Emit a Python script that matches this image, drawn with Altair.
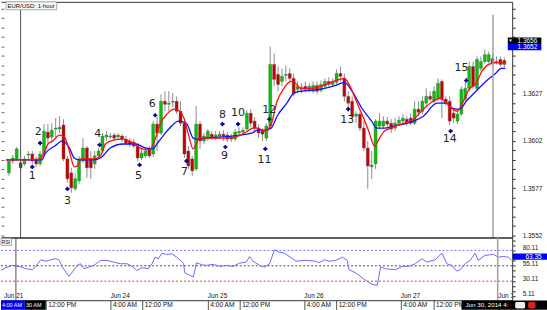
import altair as alt
import pandas as pd

# ---------------- candles (EUR/USD 1-hour) ----------------
OPEN = [1.35851, 1.35914, 1.35925, 1.35904, 1.35899, 1.35946, 1.35951, 1.35920, 1.35899, 1.35951,
        1.36067, 1.36041, 1.36083, 1.36083, 1.36104, 1.35925, 1.35851, 1.35767, 1.35809, 1.35914,
        1.35983, 1.35925, 1.35899, 1.35941, 1.35967, 1.36041, 1.36041, 1.36051, 1.36041, 1.36046,
        1.36030, 1.36020, 1.36014, 1.35993, 1.35930, 1.35941, 1.35978, 1.35951, 1.36109, 1.36062,
        1.36230, 1.36214, 1.36225, 1.36230, 1.36177, 1.36114, 1.35967, 1.35925, 1.35872, 1.36109,
        1.36020, 1.36035, 1.36056, 1.36035, 1.36046, 1.36056, 1.36051, 1.36041, 1.36030, 1.36062,
        1.36067, 1.36083, 1.36167, 1.36125, 1.36088, 1.36072, 1.36035, 1.36099, 1.36425, 1.36372,
        1.36335, 1.36367, 1.36377, 1.36351, 1.36293, 1.36293, 1.36309, 1.36288, 1.36283, 1.36314,
        1.36288, 1.36309, 1.36335, 1.36319, 1.36330, 1.36377, 1.36351, 1.36256, 1.36230, 1.36151,
        1.36162, 1.36088, 1.35983, 1.35883, 1.35899, 1.36099, 1.36099, 1.36125, 1.36114, 1.36088,
        1.36114, 1.36125, 1.36135, 1.36141, 1.36114, 1.36188, 1.36177, 1.36220, 1.36256, 1.36230,
        1.36246, 1.36335, 1.36241, 1.36230, 1.36167, 1.36125, 1.36162, 1.36241, 1.36298, 1.36414,
        1.36298, 1.36404, 1.36440, 1.36440, 1.36456, 1.36435, 1.36451, 1.36446]
HIGH = [1.35925, 1.35946, 1.35988, 1.35925, 1.35941, 1.35967, 1.35967, 1.35935, 1.35967, 1.36109,
        1.36109, 1.36114, 1.36141, 1.36151, 1.36135, 1.35941, 1.35878, 1.35851, 1.35941, 1.36035,
        1.35993, 1.35967, 1.35967, 1.35983, 1.36062, 1.36072, 1.36062, 1.36062, 1.36062, 1.36056,
        1.36046, 1.36035, 1.36030, 1.36009, 1.35978, 1.35988, 1.35993, 1.36125, 1.36151, 1.36267,
        1.36283, 1.36283, 1.36272, 1.36256, 1.36230, 1.36135, 1.35993, 1.35941, 1.36204, 1.36125,
        1.36062, 1.36083, 1.36072, 1.36072, 1.36072, 1.36077, 1.36067, 1.36056, 1.36083, 1.36093,
        1.36093, 1.36183, 1.36188, 1.36146, 1.36109, 1.36088, 1.36114, 1.36519, 1.36483, 1.36414,
        1.36404, 1.36419, 1.36404, 1.36377, 1.36335, 1.36325, 1.36335, 1.36325, 1.36335, 1.36335,
        1.36340, 1.36351, 1.36356, 1.36351, 1.36398, 1.36414, 1.36377, 1.36283, 1.36256, 1.36177,
        1.36177, 1.36125, 1.36020, 1.35967, 1.36135, 1.36167, 1.36151, 1.36146, 1.36135, 1.36141,
        1.36151, 1.36162, 1.36151, 1.36167, 1.36230, 1.36230, 1.36256, 1.36298, 1.36283, 1.36309,
        1.36351, 1.36346, 1.36256, 1.36256, 1.36193, 1.36188, 1.36309, 1.36335, 1.36440, 1.36440,
        1.36467, 1.36467, 1.36504, 1.36493, 1.36483, 1.36467, 1.36467, 1.36461]
LOW = [1.35836, 1.35899, 1.35914, 1.35862, 1.35888, 1.35914, 1.35899, 1.35883, 1.35888, 1.35941,
       1.36009, 1.36009, 1.36035, 1.36062, 1.35914, 1.35799, 1.35746, 1.35757, 1.35793, 1.35904,
       1.35825, 1.35820, 1.35872, 1.35925, 1.35956, 1.36020, 1.36030, 1.36020, 1.36025, 1.36014,
       1.35999, 1.35988, 1.35983, 1.35914, 1.35920, 1.35930, 1.35930, 1.35935, 1.35967, 1.36051,
       1.36177, 1.36177, 1.36198, 1.36162, 1.36099, 1.35930, 1.35872, 1.35836, 1.35862, 1.35978,
       1.36004, 1.36020, 1.36025, 1.36025, 1.36030, 1.36020, 1.36014, 1.36014, 1.36020, 1.36046,
       1.36056, 1.36072, 1.36093, 1.36072, 1.36035, 1.36020, 1.36020, 1.36083, 1.36309, 1.36283,
       1.36309, 1.36335, 1.36325, 1.36256, 1.36272, 1.36272, 1.36277, 1.36277, 1.36272, 1.36267,
       1.36277, 1.36293, 1.36309, 1.36309, 1.36319, 1.36335, 1.36230, 1.36177, 1.36135, 1.36114,
       1.36072, 1.35967, 1.35767, 1.35820, 1.35872, 1.36083, 1.36083, 1.36088, 1.36062, 1.36072,
       1.36099, 1.36109, 1.36099, 1.36104, 1.36104, 1.36151, 1.36162, 1.36204, 1.36230, 1.36220,
       1.36230, 1.36141, 1.36204, 1.36104, 1.36114, 1.36109, 1.36151, 1.36230, 1.36283, 1.36293,
       1.36283, 1.36388, 1.36430, 1.36430, 1.36419, 1.36425, 1.36414, 1.36409]
CLOSE = [1.35914, 1.35930, 1.35978, 1.35878, 1.35925, 1.35951, 1.35914, 1.35899, 1.35951, 1.36072,
         1.36035, 1.36077, 1.36088, 1.36093, 1.35925, 1.35820, 1.35772, 1.35820, 1.35925, 1.35983,
         1.35878, 1.35878, 1.35941, 1.35967, 1.36046, 1.36051, 1.36046, 1.36035, 1.36051, 1.36030,
         1.36009, 1.36004, 1.35993, 1.35930, 1.35956, 1.35967, 1.35941, 1.36109, 1.36062, 1.36230,
         1.36214, 1.36220, 1.36230, 1.36177, 1.36114, 1.35951, 1.35888, 1.35862, 1.36109, 1.36020,
         1.36046, 1.36072, 1.36041, 1.36051, 1.36056, 1.36046, 1.36030, 1.36030, 1.36067, 1.36070,
         1.36077, 1.36167, 1.36114, 1.36088, 1.36062, 1.36056, 1.36099, 1.36425, 1.36346, 1.36319,
         1.36362, 1.36372, 1.36351, 1.36272, 1.36309, 1.36304, 1.36293, 1.36309, 1.36314, 1.36283,
         1.36319, 1.36335, 1.36319, 1.36335, 1.36377, 1.36362, 1.36256, 1.36220, 1.36151, 1.36162,
         1.36088, 1.35983, 1.35888, 1.35893, 1.36125, 1.36125, 1.36125, 1.36109, 1.36083, 1.36114,
         1.36130, 1.36141, 1.36120, 1.36114, 1.36188, 1.36172, 1.36230, 1.36256, 1.36241, 1.36283,
         1.36325, 1.36241, 1.36220, 1.36125, 1.36141, 1.36162, 1.36293, 1.36298, 1.36414, 1.36309,
         1.36451, 1.36440, 1.36477, 1.36477, 1.36430, 1.36440, 1.36425, 1.36425]

# ---------------- moving averages ----------------
RED_X = [-0.75, 4.25, 8, 9.25, 10, 11.25, 13, 14.25, 15, 16, 16.75, 17.5, 18.5, 21.75, 23.5, 24.75,
         26.75, 29.25, 31.75, 33.5, 36, 37.5, 38.75, 40.5, 42.5, 43.75, 45, 46, 47.25, 48, 48.75,
         50.5, 55.5, 58.75, 61.25, 62.5, 63.75, 65.5, 67.25, 68.75, 70.5, 72.25, 73.5, 74.75, 77.25,
         81.25, 84.75, 86, 87.25, 88.75, 90.5, 92.25, 93.75, 95, 96.25, 97.25, 100.5, 103.75, 106.25,
         108.75, 110.5, 111.75, 113.5, 115, 116.25, 118, 119.75, 121.25, 123, 125, 127.25]
RED_P = [1.35920, 1.35920, 1.35925, 1.35967, 1.36004, 1.36020, 1.36051, 1.36041, 1.36004, 1.35925,
         1.35883, 1.35888, 1.35925, 1.35925, 1.35941, 1.36004, 1.36025, 1.36030, 1.36009, 1.35983,
         1.35972, 1.36030, 1.36109, 1.36162, 1.36188, 1.36177, 1.36135, 1.36056, 1.35978, 1.36004,
         1.36035, 1.36035, 1.36035, 1.36046, 1.36072, 1.36088, 1.36088, 1.36072, 1.36109, 1.36230,
         1.36298, 1.36335, 1.36325, 1.36298, 1.36298, 1.36319, 1.36346, 1.36351, 1.36319, 1.36246,
         1.36162, 1.36072, 1.35993, 1.36035, 1.36072, 1.36083, 1.36109, 1.36135, 1.36188, 1.36230,
         1.36246, 1.36230, 1.36193, 1.36177, 1.36220, 1.36293, 1.36325, 1.36388, 1.36425, 1.36435,
         1.36430]
BLUE_X = [-0.75, 8.5, 9.25, 11.75, 13.75, 15.5, 16.75, 18, 21.75, 23.5, 26, 29.25, 32.5, 35, 36.75,
          38.5, 41, 43.5, 45.5, 47.25, 48, 50.5, 62.25, 63.75, 65.5, 67.25, 68.75, 71.25, 73, 74.75,
          79.75, 83.75, 86, 88, 90.5, 93, 94.25, 96.25, 98.75, 103.75, 106.25, 109.75, 112.25, 113.75,
          115.5, 117.25, 119.75, 122.25, 124.75, 126.25, 127.25]
BLUE_P = [1.35920, 1.35920, 1.35951, 1.35993, 1.36020, 1.35983, 1.35930, 1.35920, 1.35920, 1.35930,
          1.35983, 1.36004, 1.36004, 1.35983, 1.35978, 1.36020, 1.36083, 1.36125, 1.36114, 1.36035,
          1.36030, 1.36035, 1.36062, 1.36077, 1.36077, 1.36088, 1.36151, 1.36220, 1.36272, 1.36283,
          1.36293, 1.36314, 1.36330, 1.36283, 1.36193, 1.36125, 1.36088, 1.36088, 1.36099, 1.36125,
          1.36151, 1.36220, 1.36220, 1.36193, 1.36188, 1.36230, 1.36283, 1.36335, 1.36377, 1.36404,
          1.36404]

# ---------------- RSI ----------------
RSI_X = [-0.75, 0.5, 2.2, 3.8, 5.5, 7.2, 8, 9.25, 10.5, 11.75,
         13, 13.8, 14.7, 16.3, 17.2, 18.4, 19.25, 20.1, 21.3, 22.6,
         24.25, 25.9, 27.6, 29.25, 30.9, 32.2, 33.4, 34.7, 36.3, 37.2,
         38, 38.8, 39.7, 40.9, 42.2, 43.4, 45.1, 45.5, 46.75, 47.6,
         48.4, 49.7, 50.9, 52.6, 54.25, 55.9, 57.6, 59.25, 60.9, 61.75,
         62.6, 64.25, 65.5, 66.75, 68, 69.25, 70.5, 73.4, 75.9, 78.4,
         79.25, 80.5, 81.75, 83.4, 85.1, 86.3, 86.75, 88, 89.25, 90.9,
         92.6, 93.8, 94.7, 95.9, 98.4, 100.1, 101.75, 103.4, 105.1, 106.3,
         108.4, 110.1, 111.3, 112.6, 113.8, 114.7, 115.9, 117.2, 118.4, 119.25,
         120.9, 123, 124.25, 125.5, 126.75, 127.6]
RSI_V = [47.6, 51.9, 55.7, 54, 50.3, 48.7, 54, 64.8, 62.6, 64.8,
         66.5, 64.8, 52.9, 37.9, 44.8, 55.7, 58.4, 50.3, 52.9, 55.7,
         63.8, 63.8, 61, 58.4, 58.4, 54, 47.6, 51.9, 50.3, 58.4,
         69.1, 66.5, 75.6, 73.5, 74.6, 69.1, 59.4, 43.2, 39.5, 36.8,
         60, 56.8, 55.7, 57.3, 54, 55.7, 54, 59.4, 61, 70.2,
         62.6, 55.7, 52.9, 58.4, 81.1, 77.2, 75.6, 62.6, 63.8, 62.6,
         60, 64.8, 62.6, 63.8, 69.1, 63.8, 48.7, 44.8, 39.5, 31.4,
         24.9, 23.3, 52.9, 50.3, 48.7, 54, 54, 58.4, 66.5, 61,
         64.8, 75.6, 58.4, 55.7, 46.4, 48.7, 58.4, 63.8, 75.6, 63.8,
         71.9, 73.5, 69.1, 70.2, 69.1, 64.0]
RSI_LEVELS = [80, 55, 30]
RSI_LEVEL_COLORS = ["#7575ff", "#4a4a4a", "#e04040"]

# ---------------- numbered signals ----------------
SIGNAL_TEXT = [str(n) for n in range(1, 16)]
PLUS_X = [6, 8, 15, 23.25, 33.5, 37.5, 45.5, 54.75, 55.5, 58.75, 65.75, 66.75, 87, 113.25, 117.25]
PLUS_P = [1.35883, 1.36009, 1.35767, 1.35999, 1.35893, 1.36156, 1.35914, 1.36109, 1.35988, 1.36109,
          1.35978, 1.36135, 1.36188, 1.36072, 1.36340]
NUM_X = [6, 7.5, 15, 22.75, 33.25, 36.75, 45, 54.75, 55.25, 58.75, 65.5, 66.75, 86.75, 113, 116]
NUM_P = [1.35836, 1.36067, 1.35704, 1.36055, 1.35832, 1.36213, 1.35857, 1.36156, 1.35941, 1.36168,
         1.35920, 1.36186, 1.36130, 1.36028, 1.36405]

# ---------------- axes / labels ----------------
PRICE_MAJOR = [1.3552, 1.3577, 1.3602, 1.3627]
PRICE_TICKS = [round(1.3552 + 0.0005 * k, 4) for k in range(25)]
RSI_MAJOR = [80.11, 55.11, 30.11, 5.11]
RSI_TICKS = [round(5.11 + k * 25 / 3, 2) for k in range(12)]
DAY_TEXT = ["Jun 21", "Jun 24", "Jun 25", "Jun 26", "Jun 27", "Jun 30"]
DAY_X = [0, 26.75, 51.25, 75.5, 99.75, 124.25]
TIME_TICK_X = [10.5, 26.75, 34.75, 51.25, 59.25, 75.5, 83.5, 99.75, 108]
TIME_TICK_TEXT = ["12:00 PM", "4:00 AM", "12:00 PM", "4:00 AM", "12:00 PM",
                  "4:00 AM", "12:00 PM", "4:00 AM", "12:00 PM"]
CROSS_X = [3, 124.1]
CROSS_TOP = 1.36688

# price tags on right axis
TAG_TEXT = ["1.3656", "1.3652"]
TAG_TOP = [1.36567, 1.36533]
TAG_BOT = [1.36533, 1.36500]
TAG_FILL = ["#000000", "#0000ee"]
RSI_TAG = ["63.35"]
RSI_TAG_TOP = [75.1]
RSI_TAG_BOT = [64.8]

# bottom time tags
BTAG_TEXT = ["4:00 AM", "30 AM", "Jun 30, 2014 4:"]
BTAG_X0 = [-0.75, 5.25, 115]
BTAG_X1 = [5.25, 10.5, 136.5]
BTAG_TX = [-0.5, 5.55, 116]
BTAG_FILL = ["#0000ee", "#000000", "#000000"]
BTAG_FS = [5.5, 5.5, 6.3]
ICON_X0 = [128.5, 131.75]
ICON_X1 = [131, 133.6]
ICON_FILL = ["#f2f2f2", "#e02020"]

XDOM = [-0.75, 127.75]
PDOM = [1.35509, 1.36756]
RDOM = [-1, 101]

xs = alt.Scale(domain=XDOM, nice=False, zero=False)
ps = alt.Scale(domain=PDOM, nice=False, zero=False)
rs = alt.Scale(domain=RDOM, nice=False, zero=False)

FONT = "Liberation Sans"

candles = pd.DataFrame({"i": list(range(len(OPEN))), "o": OPEN, "h": HIGH, "l": LOW, "c": CLOSE})
candles["dir"] = ["up" if c >= o else "down" for o, c in zip(OPEN, CLOSE)]

price_axis = alt.Axis(orient="right", values=PRICE_TICKS,
                      labelExpr=f"indexof({PRICE_MAJOR}, datum.value) >= 0 ? format(datum.value, '.4f') : ''",
                      tickSize=3, tickColor="#333333", domainColor="#333333", labelColor="#1a1a1a",
                      labelFont=FONT, labelFontSize=6.5, labelPadding=7, labelOverlap=False,
                      labelFlush=False, grid=False, title=None)
inner_axis = alt.Axis(orient="left", values=PRICE_TICKS, labels=False, domain=False, tickSize=3,
                      offset=-3, tickColor="#666666", grid=False, title=None)
top_axis = alt.Axis(orient="top", domain=True, domainColor="#333333", ticks=False, labels=False,
                    grid=False, title=None)

wicks = alt.Chart(candles).mark_rule(color="#8c8c8c", strokeWidth=1).encode(
    x=alt.X("i:Q", scale=xs, axis=top_axis),
    y=alt.Y("l:Q", scale=ps, axis=price_axis),
    y2="h:Q",
)
bodies = alt.Chart(candles).mark_bar(size=3, stroke="#5c5c5c", strokeWidth=0.4).encode(
    x=alt.X("i:Q", scale=xs, axis=None),
    y=alt.Y("o:Q", scale=ps, axis=inner_axis),
    y2="c:Q",
    color=alt.Color("dir:N", scale=alt.Scale(domain=["up", "down"], range=["#00c400", "#c40000"]),
                    legend=None),
)
blue_line = alt.Chart(pd.DataFrame({"x": BLUE_X, "p": BLUE_P})).mark_line(
    color="#1010ff", strokeWidth=1.3, interpolate="monotone", clip=True).encode(
    x=alt.X("x:Q", scale=xs, axis=None), y=alt.Y("p:Q", scale=ps, axis=None))
red_line = alt.Chart(pd.DataFrame({"x": RED_X, "p": RED_P})).mark_line(
    color="#ff1010", strokeWidth=1.3, interpolate="monotone", clip=True).encode(
    x=alt.X("x:Q", scale=xs, axis=None), y=alt.Y("p:Q", scale=ps, axis=None))

cross_left = alt.Chart(pd.DataFrame({"x": CROSS_X[:1]})).mark_rule(color="#505050", strokeWidth=1).encode(
    x=alt.X("x:Q", scale=xs, axis=None))
cross_right = alt.Chart(pd.DataFrame({"x": CROSS_X[1:], "t": [CROSS_TOP], "b": [PDOM[0]]})).mark_rule(
    color="#a0a0a0", strokeWidth=1.5).encode(
    x=alt.X("x:Q", scale=xs, axis=None), y=alt.Y("t:Q", scale=ps, axis=None), y2="b:Q")

plus = alt.Chart(pd.DataFrame({"x": PLUS_X, "p": PLUS_P})).mark_point(
    shape="cross", filled=True, size=18, color="#00008b", opacity=1).encode(
    x=alt.X("x:Q", scale=xs, axis=None), y=alt.Y("p:Q", scale=ps, axis=None))
nums = alt.Chart(pd.DataFrame({"x": NUM_X, "p": NUM_P, "t": SIGNAL_TEXT})).mark_text(
    font="DejaVu Sans", fontSize=11, color="#262626", baseline="middle", align="center").encode(
    x=alt.X("x:Q", scale=xs, axis=None), y=alt.Y("p:Q", scale=ps, axis=None), text="t:N")

info_box = alt.Chart(pd.DataFrame({"x0": [-0.75], "x1": [12.25], "t": [PDOM[1]], "b": [1.36714]})).mark_rect(
    fill="#f6f6f6", stroke="#9a9a9a", strokeWidth=0.8).encode(
    x=alt.X("x0:Q", scale=xs, axis=None), x2="x1:Q", y=alt.Y("t:Q", scale=ps, axis=None), y2="b:Q")
info_text = alt.Chart(pd.DataFrame({"x": [-0.35], "p": [1.36735], "t": ["EUR/USD: 1-hour"]})).mark_text(
    font=FONT, fontSize=6, color="#111111", align="left", baseline="middle").encode(
    x=alt.X("x:Q", scale=xs, axis=None), y=alt.Y("p:Q", scale=ps, axis=None), text="t:N")

tags = pd.DataFrame({"t": TAG_TEXT, "top": TAG_TOP, "bot": TAG_BOT, "fill": TAG_FILL})
tags["mid"] = [(a + b) / 2 for a, b in zip(TAG_TOP, TAG_BOT)]
tags["x0"] = 127.9
tags["x1"] = 136.5
tags["tx"] = 130.4
tag_rect = alt.Chart(tags).mark_rect().encode(
    x=alt.X("x0:Q", scale=xs, axis=None), x2="x1:Q",
    y=alt.Y("top:Q", scale=ps, axis=None), y2="bot:Q",
    color=alt.Color("fill:N", scale=None))
tag_text = alt.Chart(tags).mark_text(font=FONT, fontSize=6.5, color="white", align="left",
                                     baseline="middle").encode(
    x=alt.X("tx:Q", scale=xs, axis=None), y=alt.Y("mid:Q", scale=ps, axis=None), text="t:N")
tag_arrow = alt.Chart(pd.DataFrame({"x": [128.6], "p": [tags["mid"][0]], "t": ["▼"]})).mark_text(
    fontSize=4.5, color="white", align="center", baseline="middle").encode(
    x=alt.X("x:Q", scale=xs, axis=None), y=alt.Y("p:Q", scale=ps, axis=None), text="t:N")

main = alt.layer(
    wicks, bodies, blue_line, red_line, cross_left, cross_right, plus, nums,
    info_box, info_text, tag_rect, tag_text, tag_arrow,
).resolve_axis(x="independent", y="independent").properties(width=514, height=237)

# ---------------- RSI panel ----------------
rsi_axis = alt.Axis(orient="right", values=RSI_TICKS,
                    labelExpr=f"indexof({RSI_MAJOR}, datum.value) >= 0 ? format(datum.value, '.2f') : ''",
                    tickSize=3, tickColor="#333333", domainColor="#333333", labelColor="#1a1a1a",
                    labelFont=FONT, labelFontSize=6.5, labelPadding=7, labelOffset=-2.5,
                    labelOverlap=False, labelFlush=False, grid=False, title=None)
time_axis = alt.Axis(orient="bottom", values=TIME_TICK_X,
                     labelExpr=f"{TIME_TICK_TEXT}[indexof({TIME_TICK_X}, datum.value)]",
                     tickSize=10, tickColor="#555555", domainColor="#333333", labelAlign="left",
                     labelBaseline="middle", labelPadding=-5.5, labelOffset=2, labelFont=FONT,
                     labelFontSize=6.6, labelColor="#111111", labelOverlap=False, labelFlush=False,
                     grid=False, title=None)
sep_axis = alt.Axis(orient="top", domain=True, domainColor="#2a2a2a", domainWidth=1.5, ticks=False,
                    labels=False, grid=False, title=None)

levels = alt.Chart(pd.DataFrame({"v": RSI_LEVELS, "col": RSI_LEVEL_COLORS})).mark_rule(
    strokeDash=[2, 2], strokeWidth=1).encode(
    y=alt.Y("v:Q", scale=rs, axis=None), color=alt.Color("col:N", scale=None))
rsi_line = alt.Chart(pd.DataFrame({"x": RSI_X, "v": RSI_V})).mark_line(
    color="#6a6aff", strokeWidth=1, clip=True).encode(
    x=alt.X("x:Q", scale=xs, axis=time_axis), y=alt.Y("v:Q", scale=rs, axis=rsi_axis))
rsi_cross_l = alt.Chart(pd.DataFrame({"x": CROSS_X[:1]})).mark_rule(color="#505050", strokeWidth=1).encode(
    x=alt.X("x:Q", scale=xs, axis=sep_axis))
rsi_cross_r = alt.Chart(pd.DataFrame({"x": CROSS_X[1:]})).mark_rule(color="#a0a0a0", strokeWidth=1.5).encode(
    x=alt.X("x:Q", scale=xs, axis=None))

day_labels = alt.Chart(pd.DataFrame({"x": DAY_X, "t": DAY_TEXT, "v": [5.5] * len(DAY_X)})).mark_text(
    font=FONT, fontSize=6.5, color="#111111", align="left", baseline="middle", clip=True).encode(
    x=alt.X("x:Q", scale=xs, axis=None), y=alt.Y("v:Q", scale=rs, axis=None), text="t:N")

rsi_box = alt.Chart(pd.DataFrame({"x0": [-0.75], "x1": [1.9], "t": [99.6], "b": [88.2]})).mark_rect(
    fill="#f6f6f6", stroke="#9a9a9a", strokeWidth=0.8).encode(
    x=alt.X("x0:Q", scale=xs, axis=None), x2="x1:Q", y=alt.Y("t:Q", scale=rs, axis=None), y2="b:Q")
rsi_box_text = alt.Chart(pd.DataFrame({"x": [-0.55], "v": [93.9], "t": ["RSI"]})).mark_text(
    font=FONT, fontSize=5, color="#111111", align="left", baseline="middle").encode(
    x=alt.X("x:Q", scale=xs, axis=None), y=alt.Y("v:Q", scale=rs, axis=None), text="t:N")

rsi_tag_df = pd.DataFrame({"t": RSI_TAG, "top": RSI_TAG_TOP, "bot": RSI_TAG_BOT})
rsi_tag_df["mid"] = [(a + b) / 2 for a, b in zip(RSI_TAG_TOP, RSI_TAG_BOT)]
rsi_tag_df["x0"] = 127.9
rsi_tag_df["x1"] = 136.5
rsi_tag_df["tx"] = 131.1
rsi_tag_rect = alt.Chart(rsi_tag_df).mark_rect(color="#0000ee").encode(
    x=alt.X("x0:Q", scale=xs, axis=None), x2="x1:Q", y=alt.Y("top:Q", scale=rs, axis=None), y2="bot:Q")
rsi_tag_text = alt.Chart(rsi_tag_df).mark_text(font=FONT, fontSize=6.5, color="white", align="left",
                                               baseline="middle").encode(
    x=alt.X("tx:Q", scale=xs, axis=None), y=alt.Y("mid:Q", scale=rs, axis=None), text="t:N")

btag = pd.DataFrame({"t": BTAG_TEXT, "x0": BTAG_X0, "x1": BTAG_X1, "tx": BTAG_TX, "fill": BTAG_FILL,
                     "fs": BTAG_FS})
btag["top"] = -1.3
btag["bot"] = -16.6
btag["mid"] = -8.6
btag_rect = alt.Chart(btag).mark_rect().encode(
    x=alt.X("x0:Q", scale=xs, axis=None), x2="x1:Q", y=alt.Y("top:Q", scale=rs, axis=None), y2="bot:Q",
    color=alt.Color("fill:N", scale=None))
btag_text = alt.Chart(btag).mark_text(font=FONT, color="white", align="left", baseline="middle").encode(
    x=alt.X("tx:Q", scale=xs, axis=None), y=alt.Y("mid:Q", scale=rs, axis=None), text="t:N",
    size=alt.Size("fs:Q", scale=None))
icon_df = pd.DataFrame({"x0": ICON_X0, "x1": ICON_X1, "col": ICON_FILL})
icon_df["top"] = -4.0
icon_df["bot"] = -14.5
icons = alt.Chart(icon_df).mark_rect(cornerRadius=1.5).encode(
    x=alt.X("x0:Q", scale=xs, axis=None), x2="x1:Q",
    y=alt.Y("top:Q", scale=rs, axis=None), y2="bot:Q",
    color=alt.Color("col:N", scale=None))

rsi = alt.layer(
    levels, rsi_line, rsi_cross_l, rsi_cross_r, day_labels, rsi_box, rsi_box_text,
    rsi_tag_rect, rsi_tag_text, btag_rect, btag_text, icons,
).resolve_axis(x="independent", y="independent").properties(width=514, height=63)

chart = alt.vconcat(main, rsi, spacing=0, bounds="flush").properties(
    padding=0, background="white").configure_view(strokeWidth=0).configure_axis(grid=False)

chart.save("out.html", embed_options={"renderer": "svg", "actions": False})
